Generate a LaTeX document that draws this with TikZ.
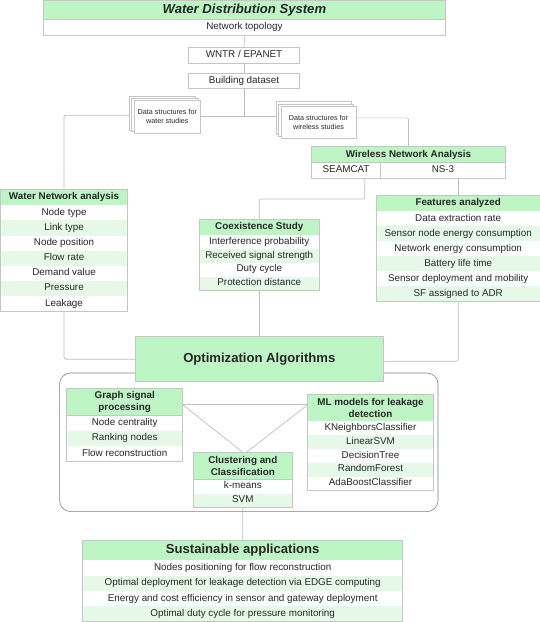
\documentclass[tikz,border=0pt]{standalone}
\usepackage{fontspec}
\setmainfont{Liberation Sans}
\usetikzlibrary{
	calc,
	backgrounds,
	positioning
}
\definecolor{HeadGreen}{RGB}{190,245,197}
\definecolor{RowGreen}{RGB}{230,249,232}
\definecolor{EdgeGrey}{RGB}{196,198,196}
\definecolor{LinkGrey}{RGB}{188,190,188}
\tikzset{
	cell/.style={inner sep=0pt, outer sep=0pt, align=center, text=black!85},
	plain/.style={cell, font=\fontsize{9.85}{12}\selectfont, text height=6.9pt, text depth=2.2pt},
	box/.style={plain, draw=EdgeGrey, line width=0.7pt, fill=white, anchor=north west},
	head/.style={cell, draw=EdgeGrey, line width=0.7pt, fill=HeadGreen, anchor=north west, font=\fontsize{9.85}{12}\selectfont\bfseries},
	row/.style={plain, anchor=north},
	frame/.style={draw=EdgeGrey, line width=0.7pt},
	sheet/.style={cell, draw=EdgeGrey, line width=0.7pt, fill=white, font=\fontsize{7.2}{9}\selectfont},
	link/.style={draw=LinkGrey, line width=0.7pt, rounded corners=2pt}
}

\begin{document}
\begin{tikzpicture}[x=1pt, y=-1pt]
		\useasboundingbox (0,0) rectangle (540,622);
		% top of the chain
		\node[head, minimum width=402pt, minimum height=19.5pt, font=\fontsize{13.1}{16}\selectfont\bfseries\itshape] (wds) at (43.4,0) {Water Distribution System};
		\node[box, minimum width=402pt, minimum height=16pt] (nt) at (43.4,19.5) {Network topology};
		\node[box, minimum width=111.6pt, minimum height=16pt] (wntr) at (188.2,47.3) {WNTR / EPANET};
		\node[box, minimum width=111.6pt, minimum height=15.7pt] (bd) at (188.2,73) {Building dataset};
		% stacked sheets
		\foreach \n/\x/\y in {b/162.35/113.35, m/164.85/115.15, f/167.35/116.65}
		\node[sheet, minimum width=66.7pt, minimum height=33.3pt] (dw\n) at (\x,\y) {};
		\node[sheet, draw=none, fill=none] at (dwf) {Data structures for\\water studies};
		\foreach \n/\x/\y in {b/313.65/117.85, m/316.2/120.15, f/318.5/122.15}
		\node[sheet, minimum width=75pt, minimum height=32.3pt] (rs\n) at (\x,\y) {};
		\node[sheet, draw=none, fill=none] at (rsf) {Data structures for\\wireless studies};
		% wireless analysis
		\node[head, minimum width=193.9pt, minimum height=16pt] (wa) at (311.6,146.7) {Wireless Network Analysis};
		\node[box, minimum width=68.9pt, minimum height=15.6pt] (seamcat) at (311.6,162.7) {SEAMCAT};
		\node[box, minimum width=125pt, minimum height=15.6pt] (ns) at (380.5,162.7) {NS-3};
		% water analysis
		\node[head, minimum width=127.1pt, minimum height=15.8pt] (wn) at (0.5,189.5) {Water Network analysis};
		\foreach \i/\c/\txt in {1/white/Node type, 2/RowGreen/Link type, 3/white/Node position, 4/RowGreen/Flow rate, 5/white/Demand value, 6/RowGreen/Pressure, 7/white/Leakage}
		\node[row, fill=\c, minimum width=127.1pt, minimum height=15.15pt] (wn\i) at ($(wn.south)+(0,{(\i-1)*15.15})$) {\txt};
		\draw[frame] (wn.north west) rectangle (wn7.south east);
		% coexistence
		\node[head, minimum width=120.6pt, minimum height=15.7pt] (cs) at (199,219.3) {Coexistence Study};
		\foreach \i/\c/\txt in {1/white/Interference probability, 2/RowGreen/Received signal strength, 3/white/Duty cycle, 4/RowGreen/Protection distance}
		\node[row, fill=\c, minimum width=120.6pt, minimum height=13.85pt] (cs\i) at ($(cs.south)+(0,{(\i-1)*13.85})$) {\txt};
		\draw[frame] (cs.north west) rectangle (cs4.south east);
		% features
		\node[head, minimum width=163.6pt, minimum height=16pt] (fa) at (376.4,195.3) {Features analyzed};
		\foreach \i/\c/\txt in {1/white/Data extraction rate, 2/RowGreen/Sensor node energy consumption, 3/white/Network energy consumption, 4/RowGreen/Battery life time, 5/white/Sensor deployment and mobility, 6/RowGreen/SF assigned to ADR}
		\node[row, fill=\c, minimum width=163.6pt, minimum height=15pt] (fa\i) at ($(fa.south)+(0,{(\i-1)*15})$) {\txt};
		\draw[frame] (fa.north west) rectangle (fa6.south east);
		% algorithms
		\node[draw=black!50, line width=0.6pt, rounded corners=11pt, minimum width=378.4pt, minimum height=138.6pt, anchor=north west] (alg) at (59.3,372.7) {};
		\node[head, minimum width=248pt, minimum height=45pt, font=\fontsize{13.1}{16}\selectfont\bfseries] (opt) at (135.3,336.7) {Optimization Algorithms};
		\node[head, minimum width=116pt, minimum height=27.4pt] (gs) at (66.7,388.3) {Graph signal\\processing};
		\foreach \i/\c/\txt in {1/white/Node centrality, 2/RowGreen/Ranking nodes, 3/white/Flow reconstruction}
		\node[row, fill=\c, minimum width=116pt, minimum height=15.2pt] (gs\i) at ($(gs.south)+(0,{(\i-1)*15.2})$) {\txt};
		\draw[frame] (gs.north west) rectangle (gs3.south east);
		\node[head, minimum width=125.6pt, minimum height=27pt] (ml) at (307.7,394.3) {ML models for leakage\\detection};
		\foreach \i/\c/\txt in {1/white/KNeighborsClassifier, 2/RowGreen/LinearSVM, 3/white/DecisionTree, 4/RowGreen/RandomForest, 5/white/AdaBoostClassifier}
		\node[row, fill=\c, minimum width=125.6pt, minimum height=13.8pt] (ml\i) at ($(ml.south)+(0,{(\i-1)*13.8})$) {\txt};
		\draw[frame] (ml.north west) rectangle (ml5.south east);
		\node[head, minimum width=99pt, minimum height=27pt] (cl) at (193.3,452.7) {Clustering and\\Classification};
		\foreach \i/\c/\txt in {1/white/k-means, 2/RowGreen/SVM}
		\node[row, fill=\c, minimum width=99pt, minimum height=13.8pt] (cl\i) at ($(cl.south)+(0,{(\i-1)*13.8})$) {\txt};
		\draw[frame] (cl.north west) rectangle (cl2.south east);
		% applications
		\node[head, minimum width=320pt, minimum height=20pt, font=\fontsize{13.1}{16}\selectfont\bfseries] (sa) at (82.7,540.3) {Sustainable applications};
		\foreach \i/\c/\txt in {1/white/Nodes positioning for flow reconstruction, 2/RowGreen/Optimal deployment for leakage detection via EDGE computing, 3/white/Energy and cost efficiency in sensor and gateway deployment, 4/RowGreen/Optimal duty cycle for pressure monitoring}
		\node[row, fill=\c, minimum width=320pt, minimum height=15.35pt] (sa\i) at ($(sa.south)+(0,{(\i-1)*15.35})$) {\txt};
		\draw[frame] (sa.north west) rectangle (sa4.south east);
		% connectors
		\coordinate (scout) at ([xshift=-15.8pt]seamcat.south east);
		\coordinate (scturn) at (364.7,199);
		\begin{scope}[on background layer]
			\draw[link] (nt.south) -- (wntr.north);
			\draw[link] (wntr.south) -- (bd.north);
			\draw[link] (bd.south) -- (bd.south |- dwf.east);
			\draw[link] (dwf.east) -- (dwf.east -| rsb.west);
			\draw[link] (dwm.west) -| (wn.north);
			\draw[link] (rsb.east) -| (wa.north);
			\draw[link] (scout) -- (scturn) -| (cs.north);
			\draw[link] (ns.south -| fa.north) -- (fa.north);
			\draw[link] (cs4.south) -- (opt.north);
			\draw[link] (wn7.south) |- (opt.west);
			\draw[link] (fa6.south) |- ([yshift=-2pt]opt.east);
			\draw[link] ([yshift=-2.7pt]gs.east) -- ([yshift=3.1pt]ml.west);
			\draw[link] ([yshift=-2.7pt]gs.east) -- ([xshift=0.5pt]cl.north);
			\draw[link] ([yshift=3.1pt]ml.west) -- ([xshift=3.2pt]cl.north);
			\draw[link] (cl2.south) -- (sa.north);
		\end{scope}
	\end{tikzpicture}
\end{document}
